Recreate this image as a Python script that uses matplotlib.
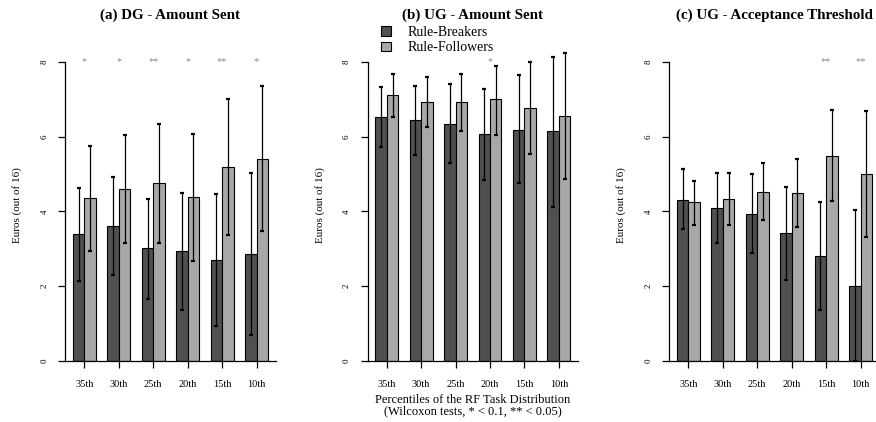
import matplotlib
matplotlib.use("Agg")
import matplotlib.pyplot as plt
from matplotlib.patches import Patch
import numpy as np

plt.rcParams['font.family'] = ['Liberation Serif', 'DejaVu Serif']

percentiles = ["35th", "30th", "25th", "20th", "15th", "10th"]
series_names = ["Rule-Breakers", "Rule-Followers"]

# (a) DG - Amount Sent
dg_rb_mean = [3.40, 3.61, 3.01, 2.93, 2.70, 2.87]
dg_rb_low = [2.14, 2.29, 1.66, 1.36, 0.94, 0.70]
dg_rb_high = [4.63, 4.93, 4.34, 4.50, 4.47, 5.02]
dg_rf_mean = [4.35, 4.60, 4.77, 4.39, 5.20, 5.41]
dg_rf_low = [2.93, 3.15, 3.17, 2.67, 3.37, 3.48]
dg_rf_high = [5.76, 6.04, 6.34, 6.07, 7.01, 7.36]
dg_stars = ["*", "*", "**", "*", "**", "*"]

# (b) UG - Amount Sent
ug_rb_mean = [6.54, 6.44, 6.35, 6.07, 6.19, 6.15]
ug_rb_low = [5.73, 5.51, 5.29, 4.84, 4.75, 4.13]
ug_rb_high = [7.33, 7.37, 7.40, 7.29, 7.64, 8.14]
ug_rf_mean = [7.11, 6.94, 6.93, 7.00, 6.78, 6.56]
ug_rf_low = [6.53, 6.26, 6.16, 6.04, 5.55, 4.87]
ug_rf_high = [7.69, 7.60, 7.69, 7.89, 8.00, 8.23]
ug_stars = ["", "", "", "*", "", ""]

# (c) UG - Acceptance Threshold
at_rb_mean = [4.32, 4.09, 3.93, 3.42, 2.81, 2.01]
at_rb_low = [3.52, 3.16, 2.88, 2.18, 1.36, 0.00]
at_rb_high = [5.13, 5.02, 5.00, 4.65, 4.25, 4.03]
at_rf_mean = [4.26, 4.34, 4.53, 4.50, 5.49, 5.01]
at_rf_low = [3.65, 3.65, 3.76, 3.58, 4.28, 3.32]
at_rf_high = [4.82, 5.02, 5.29, 5.40, 6.72, 6.68]
at_stars = ["", "", "", "", "**", "**"]

titles = ["(a) DG - Amount Sent", "(b) UG - Amount Sent", "(c) UG - Acceptance Threshold"]

panels = [
    (dg_rb_mean, dg_rb_low, dg_rb_high, dg_rf_mean, dg_rf_low, dg_rf_high, dg_stars),
    (ug_rb_mean, ug_rb_low, ug_rb_high, ug_rf_mean, ug_rf_low, ug_rf_high, ug_stars),
    (at_rb_mean, at_rb_low, at_rb_high, at_rf_mean, at_rf_low, at_rf_high, at_stars),
]

W, H = 876, 422
fig = plt.figure(figsize=(W / 100, H / 100), dpi=100)

dark = "#505050"
light = "#a8a8a8"

ax_lefts_px = [65.2, 367.5, 669.2]
ax_w_px = 210.6
y0_px, ytop_px = 361, 50
ylim = (0, 8.32)

n = len(percentiles)
centers = np.arange(n) * 3 + 2.0

for i, (left_px, panel) in enumerate(zip(ax_lefts_px, panels)):
    rbm, rbl, rbh, rfm, rfl, rfh, stars = panel
    ax = fig.add_axes([left_px / W, (H - y0_px) / H, ax_w_px / W, (y0_px - ytop_px) / H])
    ax.set_xlim(0.32, 18.68)
    ax.set_ylim(*ylim)
    rbm = np.array(rbm); rfm = np.array(rfm)
    xd = centers - 0.5
    xl = centers + 0.5
    ax.bar(xd, rbm, width=1.0, color=dark, edgecolor="black", linewidth=0.8, zorder=2)
    ax.bar(xl, rfm, width=1.0, color=light, edgecolor="black", linewidth=0.8, zorder=2)
    ax.errorbar(xd, rbm, yerr=[rbm - np.array(rbl), np.array(rbh) - rbm], fmt="none",
                ecolor="black", elinewidth=0.9, capsize=1.6, capthick=1.6, zorder=3, clip_on=False)
    ax.errorbar(xl, rfm, yerr=[rfm - np.array(rfl), np.array(rfh) - rfm], fmt="none",
                ecolor="black", elinewidth=0.9, capsize=1.6, capthick=1.6, zorder=3, clip_on=False)
    for c, s in zip(centers, stars):
        if s:
            ax.text(c, 8.0, s, ha="center", va="center", fontsize=7.5, color="#8a8a8a")
    for sp in ["top", "right"]:
        ax.spines[sp].set_visible(False)
    ax.spines["left"].set_bounds(0, 8)
    ax.spines["left"].set_linewidth(0.9)
    ax.spines["bottom"].set_linewidth(0.9)
    ax.set_yticks([0, 2, 4, 6, 8])
    ax.set_yticklabels(["0", "2", "4", "6", "8"], rotation=90, va="center", fontsize=6.5)
    ax.set_xticks(centers)
    ax.set_xticklabels(percentiles, fontsize=7.5)
    ax.tick_params(axis="y", length=5, width=0.9, pad=7)
    ax.tick_params(axis="x", length=5, width=0.9, pad=9)
    ax.set_ylabel("Euros (out of 16)", fontsize=8, labelpad=13)
    ax.text(0.5, 1.112, titles[i], transform=ax.transAxes, ha="center", va="center",
            fontsize=10.8, fontweight="bold")
    if i == 1:
        ax.set_xlabel("Percentiles of the RF Task Distribution\n(Wilcoxon tests, * < 0.1, ** < 0.05)",
                      fontsize=9, labelpad=3, linespacing=1.0)
        handles = [Patch(facecolor=dark, edgecolor="black", linewidth=0.8),
                   Patch(facecolor=light, edgecolor="black", linewidth=0.8)]
        fig.legend(handles, series_names, loc="center left",
                   bbox_to_anchor=(374 / W, 1 - 40 / H), frameon=False, fontsize=10,
                   handlelength=0.7, handleheight=0.7, handletextpad=1.2, labelspacing=0.2,
                   borderpad=0)

fig.savefig("out.png", dpi=100)
